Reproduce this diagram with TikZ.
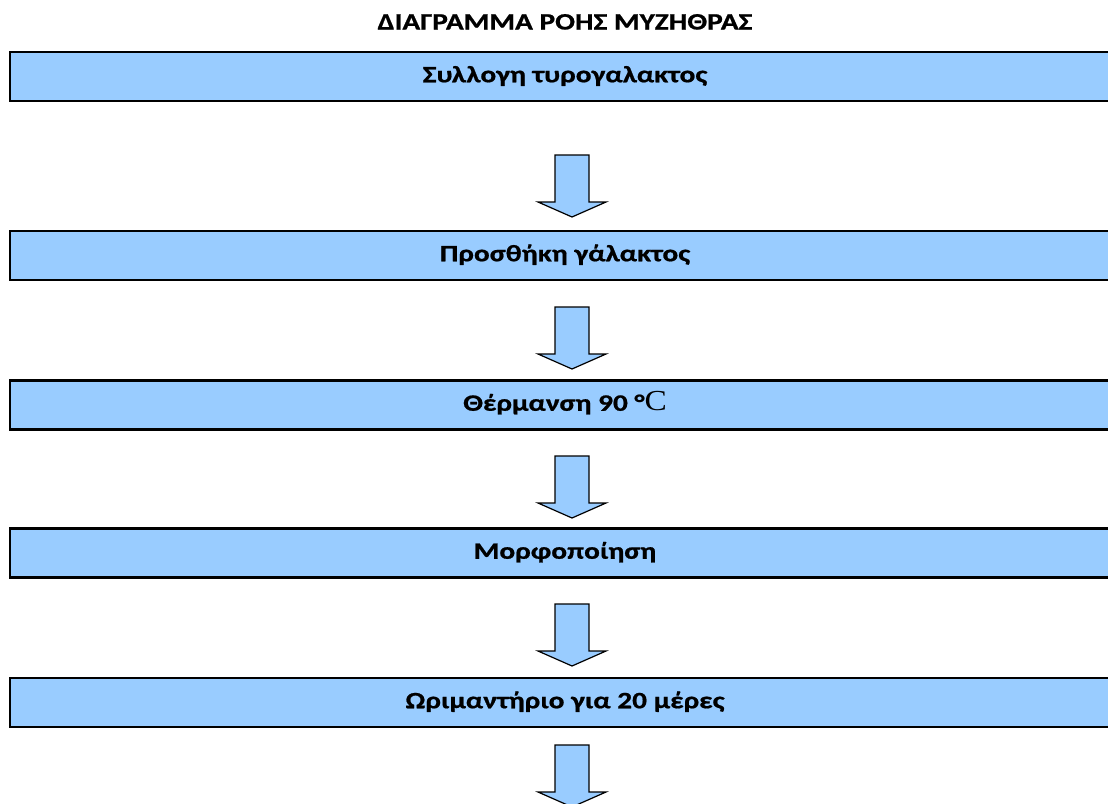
\documentclass[tikz,border=0pt]{standalone}
\usepackage{fontspec}
\setmainfont{Carlito}[FakeStretch=1.25, BoldFeatures={FakeBold=0.8}]
\newfontfamily\serifC{Liberation Serif}[FakeStretch=1.15]
\definecolor{boxblue}{HTML}{99CCFF}
\tikzset{
  x=1pt, y=-1pt,
  stepbox/.style={draw=black, line width=2.2pt, fill=boxblue, minimum width=1110pt, minimum height=49pt, inner sep=0pt, text height=15.5pt, text depth=4pt, font=\fontsize{23.5}{26}\selectfont\bfseries},
  titletext/.style={font=\fontsize{23.5}{26}\selectfont\bfseries, inner sep=0pt},
  blockarrow/.style={draw=black, line width=1.2pt, fill=boxblue, line join=miter},
  downarr/.pic={\path[blockarrow] (-17,0) -- (17,0) -- (17,47) -- (34,47) -- (0,62) -- (-34,47) -- (-17,47) -- cycle;}
}
\begin{document}
\begin{tikzpicture}
\clip (0,0) rectangle (1108,803);
\fill[white] (0,0) rectangle (1108,803);
\node[titletext, anchor=base] (title) at (565,29.5) {ΔΙΑΓΡΑΜΜΑ ΡΟΗΣ ΜΥΖΗΘΡΑΣ};
\node[stepbox] (s1) at (565,76.5) {Συλλογη τυρογαλακτος};
\node[stepbox] (s2) at (565,255.5) {Προσθήκη γάλακτος};
\node[stepbox] (s3) at (565,405) {Θέρμανση 90 °{\serifC\mdseries\fontsize{29}{29}\selectfont C}};
\node[stepbox] (s4) at (565,553) {Μορφοποίηση};
\node[stepbox] (s5) at (565,702.5) {Ωριμαντήριο για 20 μέρες};
\pic at (572,155) {downarr};
\pic at (572,307) {downarr};
\pic at (572,456) {downarr};
\pic at (572,604) {downarr};
\pic at (572,745) {downarr};
\end{tikzpicture}
\end{document}
